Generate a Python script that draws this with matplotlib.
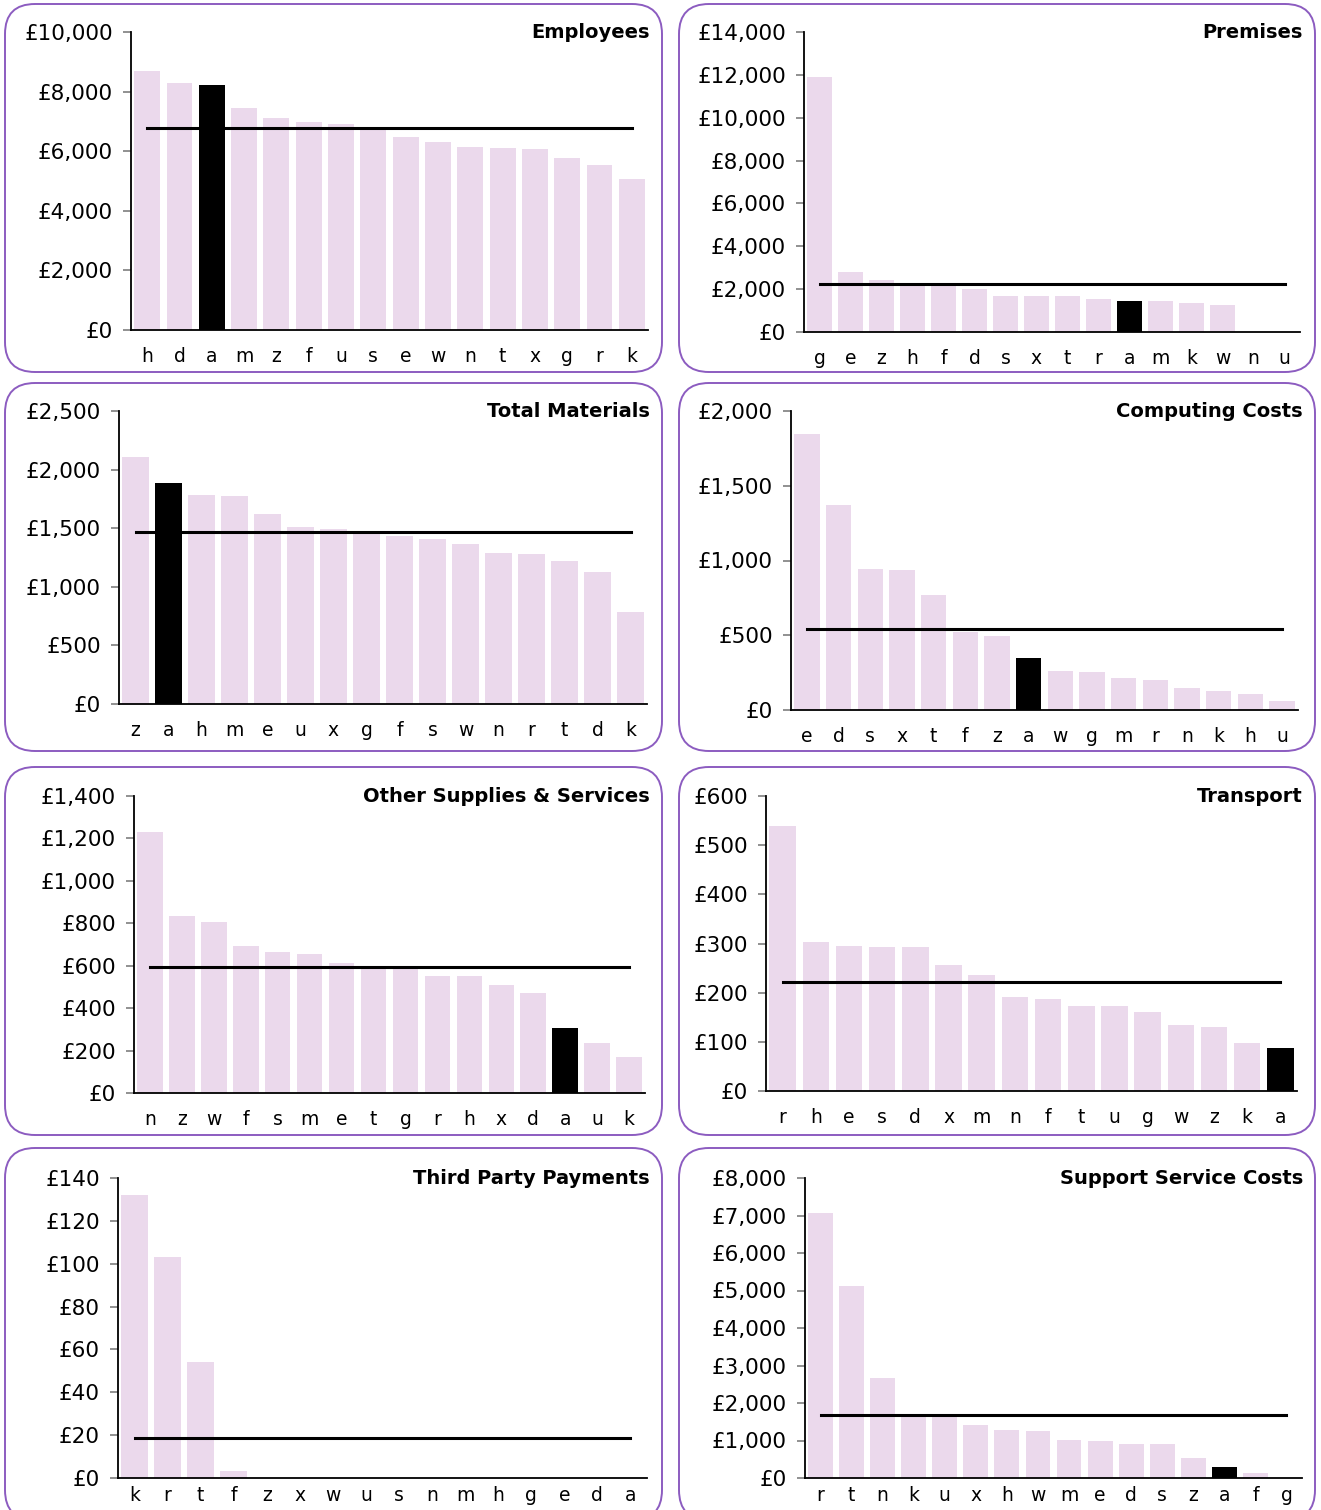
import matplotlib
matplotlib.use('Agg')
import matplotlib.pyplot as plt
from matplotlib.patches import FancyBboxPatch
from matplotlib.ticker import FuncFormatter

# --- data ---
emp_cats = ['h', 'd', 'a', 'm', 'z', 'f', 'u', 's', 'e', 'w', 'n', 't', 'x', 'g', 'r', 'k']
emp_vals = [8700, 8280, 8210, 7460, 7110, 6980, 6920, 6780, 6470, 6310, 6140, 6110, 6070, 5770, 5550, 5070]
emp_avg = 6770

prem_cats = ['g', 'e', 'z', 'h', 'f', 'd', 's', 'x', 't', 'r', 'a', 'm', 'k', 'w', 'n', 'u']
prem_vals = [11880, 2820, 2430, 2280, 2200, 1990, 1700, 1690, 1660, 1550, 1460, 1460, 1370, 1240, 0, 0]
prem_avg = 2240

mat_cats = ['z', 'a', 'h', 'm', 'e', 'u', 'x', 'g', 'f', 's', 'w', 'n', 'r', 't', 'd', 'k']
mat_vals = [2105, 1885, 1780, 1775, 1620, 1510, 1495, 1450, 1430, 1405, 1365, 1290, 1280, 1220, 1125, 785]
mat_avg = 1465

comp_cats = ['e', 'd', 's', 'x', 't', 'f', 'z', 'a', 'w', 'g', 'm', 'r', 'n', 'k', 'h', 'u']
comp_vals = [1845, 1370, 945, 935, 770, 520, 495, 345, 260, 255, 215, 200, 145, 125, 105, 60]
comp_avg = 540

oss_cats = ['n', 'z', 'w', 'f', 's', 'm', 'e', 't', 'g', 'r', 'h', 'x', 'd', 'a', 'u', 'k']
oss_vals = [1230, 835, 805, 695, 665, 655, 615, 585, 585, 550, 550, 510, 470, 305, 235, 170]
oss_avg = 595

trans_cats = ['r', 'h', 'e', 's', 'd', 'x', 'm', 'n', 'f', 't', 'u', 'g', 'w', 'z', 'k', 'a']
trans_vals = [538, 303, 295, 293, 293, 256, 235, 192, 187, 173, 173, 160, 134, 130, 97, 87]
trans_avg = 222

tpp_cats = ['k', 'r', 't', 'f', 'z', 'x', 'w', 'u', 's', 'n', 'm', 'h', 'g', 'e', 'd', 'a']
tpp_vals = [132, 103, 54, 3.5, 0, 0, 0, 0, 0, 0, 0, 0, 0, 0, 0, 0]
tpp_avg = 18.5

ssc_cats = ['r', 't', 'n', 'k', 'u', 'x', 'h', 'w', 'm', 'e', 'd', 's', 'z', 'a', 'f', 'g']
ssc_vals = [7080, 5110, 2660, 1700, 1680, 1420, 1270, 1245, 1005, 985, 895, 895, 535, 285, 135, 0]
ssc_avg = 1680

# panel layout in pixels
W, H = 1321, 1510
BAR = '#ebd9ec'
BORDER = '#8c5cc0'

panels = [
    # title, cats, vals, avg, ymax, ystep, axes box (l, t, r, b), panel box (l, t, r, b)
    ('Employees', emp_cats, emp_vals, emp_avg, 10000, 2000, (131, 32, 648, 330), (5, 4, 662, 372)),
    ('Premises', prem_cats, prem_vals, prem_avg, 14000, 2000, (804, 32, 1300, 332), (679, 4, 1315, 372)),
    ('Total Materials', mat_cats, mat_vals, mat_avg, 2500, 500, (119, 411, 647, 704), (5, 383, 662, 751)),
    ('Computing Costs', comp_cats, comp_vals, comp_avg, 2000, 500, (791, 411, 1298, 710), (679, 383, 1315, 751)),
    ('Other Supplies & Services', oss_cats, oss_vals, oss_avg, 1400, 200, (134, 796, 645, 1093), (5, 767, 662, 1135)),
    ('Transport', trans_cats, trans_vals, trans_avg, 600, 100, (766, 796, 1297, 1091), (679, 767, 1315, 1135)),
    ('Third Party Payments', tpp_cats, tpp_vals, tpp_avg, 140, 20, (118, 1178, 647, 1478), (5, 1148, 662, 1520)),
    ('Support Service Costs', ssc_cats, ssc_vals, ssc_avg, 8000, 1000, (805, 1178, 1302, 1478), (679, 1148, 1315, 1520)),
]

fig = plt.figure(figsize=(W / 100, H / 100), dpi=100)

money = FuncFormatter(lambda v, p: '£{:,.0f}'.format(v))

for title, cats, vals, avg, ymax, ystep, abox, pbox in panels:
    # rounded panel frame, drawn in inches so the corners stay round
    pl, pt, pr, pb = pbox
    frame = FancyBboxPatch((pl / 100, (H - pb) / 100), (pr - pl) / 100, (pb - pt) / 100,
                           boxstyle='round,pad=0,rounding_size=0.3',
                           transform=fig.dpi_scale_trans, fill=False,
                           edgecolor=BORDER, linewidth=1.4)
    fig.patches.append(frame)

    l, t, r, b = abox
    ax = fig.add_axes([l / W, 1 - b / H, (r - l) / W, (b - t) / H])
    x = list(range(len(cats)))
    colors = ['black' if c == 'a' else BAR for c in cats]
    ax.bar(x, vals, width=0.8, color=colors, zorder=2)
    ax.plot([x[0], x[-1]], [avg, avg], color='black', linewidth=2.2, zorder=3)

    ax.set_xlim(-0.5, len(cats) - 0.5)
    ax.set_ylim(0, ymax)
    ax.set_yticks(range(0, ymax + 1, ystep))
    ax.yaxis.set_major_formatter(money)
    ax.set_xticks(x)
    ax.set_xticklabels(cats)

    for s in ['top', 'right']:
        ax.spines[s].set_visible(False)
    for s in ['left', 'bottom']:
        ax.spines[s].set_linewidth(1.3)
    ax.tick_params(axis='y', length=6, width=1.3, color='#888888', pad=7, labelsize=15.5)
    # bottom row sits at the page edge, keep its letters inside the figure
    xpad = 12 if b < 1400 else 6
    ax.tick_params(axis='x', length=0, pad=xpad, labelsize=13.5)

    fig.text((pr - 12) / W, 1 - t / H, title, ha='right', va='center',
             fontsize=14, fontweight='bold')

fig.savefig('out.png', dpi=100)
